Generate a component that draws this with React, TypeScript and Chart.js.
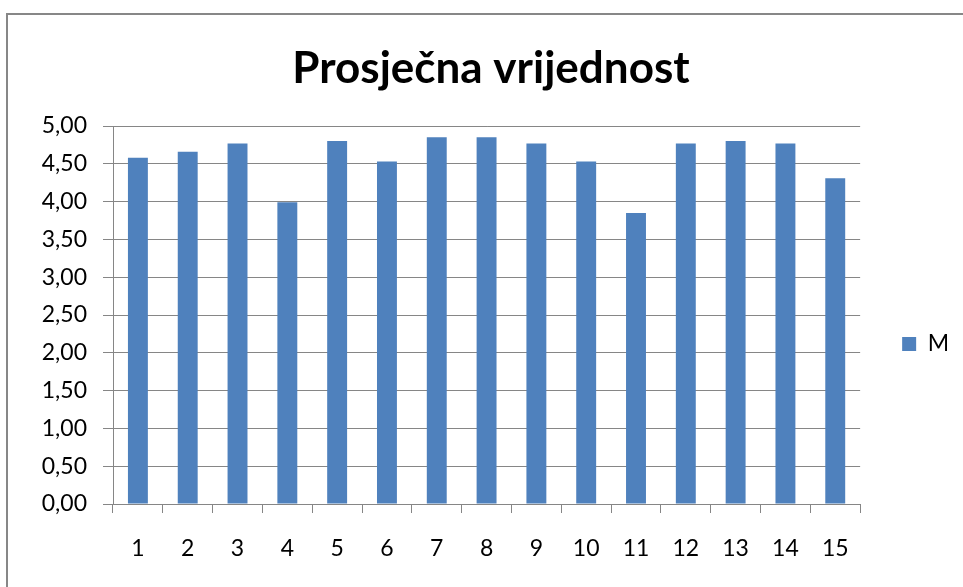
import React, { useEffect, useRef } from "react";
import { Chart, registerables } from "chart.js";

Chart.register(...registerables);

const categories = ["1", "2", "3", "4", "5", "6", "7", "8", "9", "10", "11", "12", "13", "14", "15"];
const seriesName = "M";
const seriesValues = [4.58, 4.66, 4.77, 3.99, 4.8, 4.53, 4.85, 4.85, 4.77, 4.53, 3.85, 4.77, 4.8, 4.77, 4.31];
const yTickLabels = ["0,00", "0,50", "1,00", "1,50", "2,00", "2,50", "3,00", "3,50", "4,00", "4,50", "5,00"];
const titleText = "Prosječna vrijednost";

export default function App() {
  const ref = useRef<HTMLCanvasElement | null>(null);

  useEffect(() => {
    if (!ref.current) return;
    const grid = "#868686";
    const font = "Lato";
    const chart = new Chart(ref.current, {
      type: "bar",
      data: {
        labels: categories,
        datasets: [
          {
            label: seriesName,
            data: seriesValues,
            backgroundColor: "#4F81BD",
            borderWidth: 0,
            barPercentage: 0.4,
            categoryPercentage: 1,
          },
        ],
      },
      options: {
        animation: false,
        responsive: false,
        maintainAspectRatio: false,
        layout: { padding: { left: 23, right: 4, top: 0, bottom: 0 } },
        plugins: {
          title: {
            display: true,
            text: titleText,
            color: "#000",
            font: { family: font, size: 44, weight: "bold", lineHeight: 1.2 },
            padding: { top: 42.6, bottom: 30.6 },
          },
          legend: {
            position: "right",
            title: { display: true, text: "", font: { size: 12, lineHeight: 1.2 }, padding: { top: 86.6, bottom: 0 } },
            labels: {
              boxWidth: 14,
              boxHeight: 14,
              padding: 42,
              color: "#000",
              font: { family: font, size: 23 },
            },
          },
          tooltip: { enabled: false },
        },
        scales: {
          x: {
            offset: true,
            grid: {
              offset: true,
              drawOnChartArea: false,
              drawTicks: true,
              tickLength: 9,
              color: grid,
            },
            border: { display: true, color: grid, width: 1 },
            ticks: { color: "#000", padding: 22, font: { family: font, size: 23 }, maxRotation: 0, autoSkip: false },
            afterFit: (scale: any) => {
              scale.height = 83;
            },
          },
          y: {
            min: 0,
            max: 5,
            grid: { color: grid, tickLength: 10, drawTicks: true },
            border: { display: true, color: grid, width: 1 },
            ticks: {
              stepSize: 0.5,
              color: "#000",
              padding: 16,
              font: { family: font, size: 23 },
              callback: (_v: any, i: number) => yTickLabels[i],
            },
            afterFit: (scale: any) => {
              scale.width = 90;
            },
          },
        },
      },
    });
    return () => chart.destroy();
  }, []);

  return (
    <div style={{ position: "absolute", left: 0, top: 0, width: 963, height: 587, background: "#fff", overflow: "hidden" }}>
      <div
        style={{
          position: "absolute",
          left: 6,
          top: 13,
          width: 1000,
          height: 1000,
          borderLeft: "2px solid #878787",
          borderTop: "2px solid #878787",
        }}
      />
      <canvas ref={ref} width={963} height={587} style={{ position: "absolute", left: 0, top: 0 }} />
    </div>
  );
}
